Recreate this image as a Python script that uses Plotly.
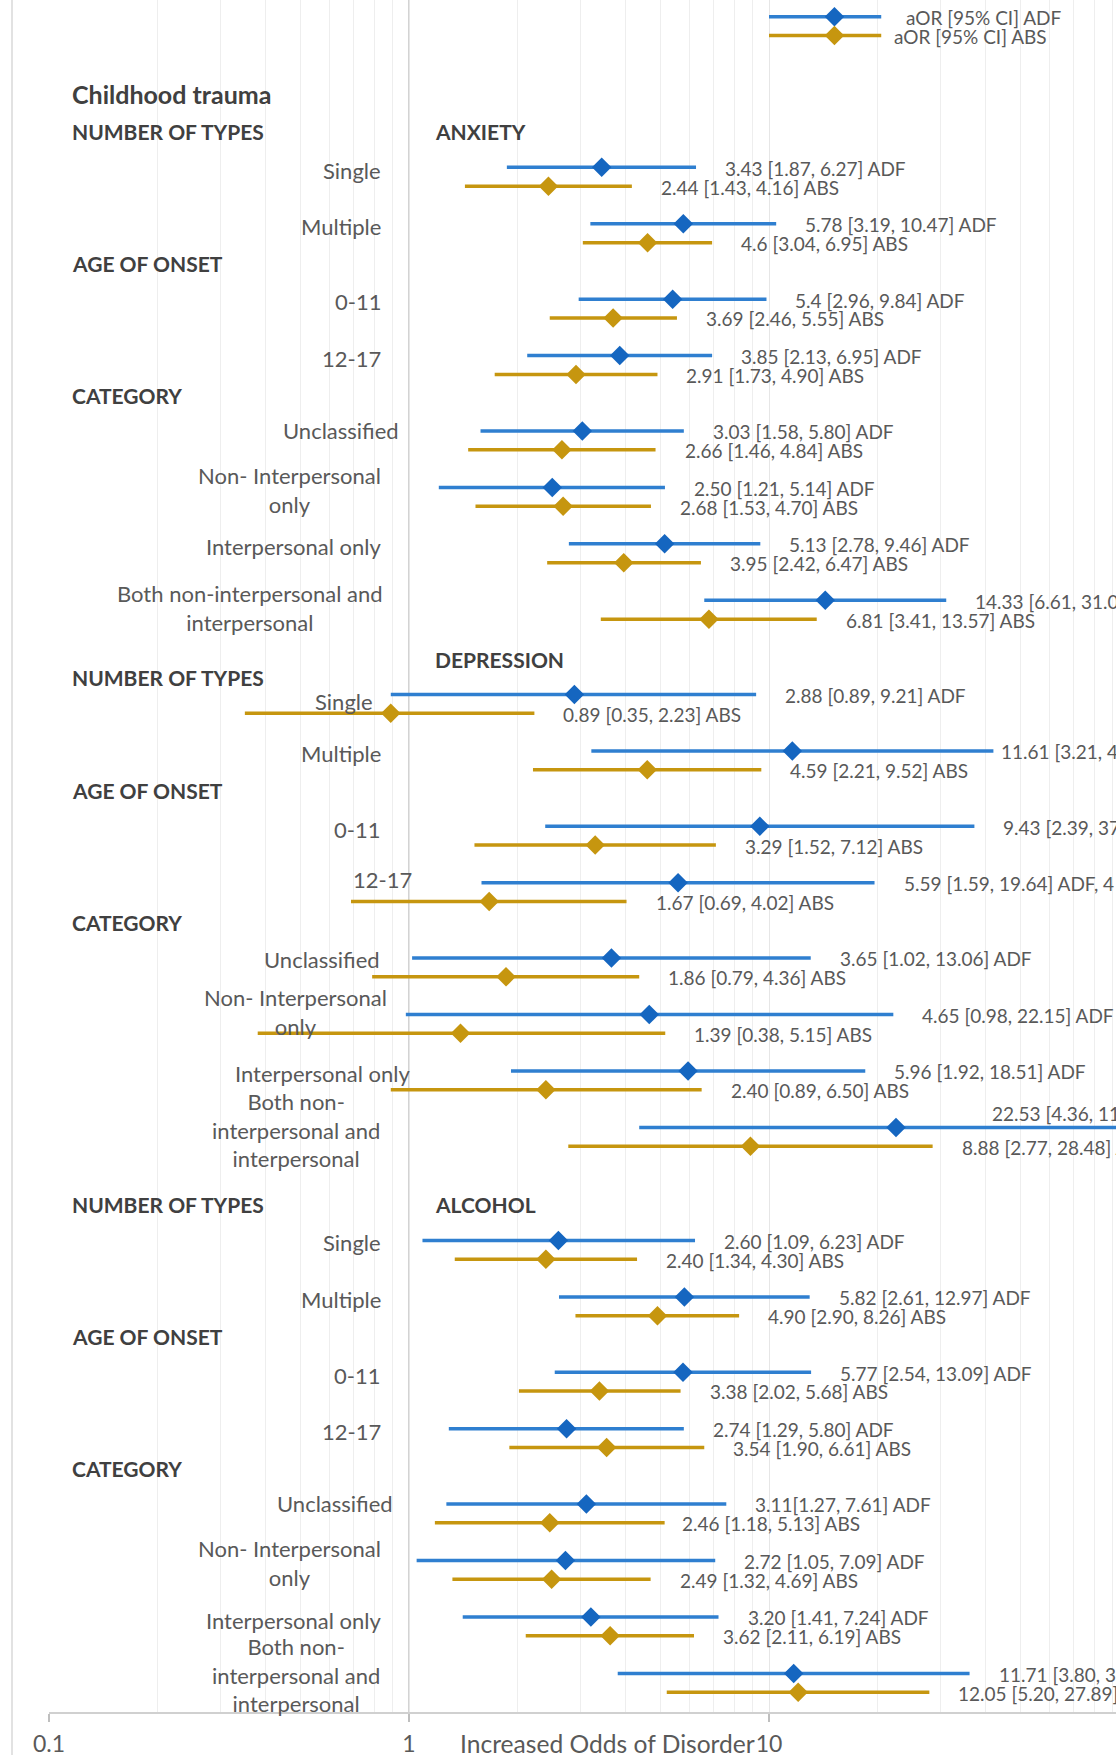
import math
import plotly.graph_objects as go

# ---------------- data ----------------
sections = ["ANXIETY", "DEPRESSION", "ALCOHOL"]
rows = ["Single", "Multiple", "0-11", "12-17", "Unclassified",
        "Non-Interpersonal only", "Interpersonal only", "Both"]

row_labels = [
    ["Single", "Multiple", "0-11", "12-17", "Unclassified",
     "Non- Interpersonal<br>only", "Interpersonal only",
     "Both non-interpersonal and<br>interpersonal"],
    ["Single", "Multiple", "0-11", "12-17", "Unclassified",
     "Non- Interpersonal<br>only", "Interpersonal only",
     "Both non-<br>interpersonal and<br>interpersonal"],
    ["Single", "Multiple", "0-11", "12-17", "Unclassified",
     "Non- Interpersonal<br>only", "Interpersonal only",
     "Both non-<br>interpersonal and<br>interpersonal"],
]

adf_or = [3.43, 5.78, 5.40, 3.85, 3.03, 2.50, 5.13, 14.33,
          2.88, 11.61, 9.43, 5.59, 3.65, 4.65, 5.96, 22.53,
          2.60, 5.82, 5.77, 2.74, 3.11, 2.72, 3.20, 11.71]
adf_lo = [1.87, 3.19, 2.96, 2.13, 1.58, 1.21, 2.78, 6.61,
          0.89, 3.21, 2.39, 1.59, 1.02, 0.98, 1.92, 4.36,
          1.09, 2.61, 2.54, 1.29, 1.27, 1.05, 1.41, 3.80]
adf_hi = [6.27, 10.47, 9.84, 6.95, 5.80, 5.14, 9.46, 31.07,
          9.21, 42.01, 37.20, 19.64, 13.06, 22.15, 18.51, 116.40,
          6.23, 12.97, 13.09, 5.80, 7.61, 7.09, 7.24, 36.07]

abs_or = [2.44, 4.60, 3.69, 2.91, 2.66, 2.68, 3.95, 6.81,
          0.89, 4.59, 3.29, 1.67, 1.86, 1.39, 2.40, 8.88,
          2.40, 4.90, 3.38, 3.54, 2.46, 2.49, 3.62, 12.05]
abs_lo = [1.43, 3.04, 2.46, 1.73, 1.46, 1.53, 2.42, 3.41,
          0.35, 2.21, 1.52, 0.69, 0.79, 0.38, 0.89, 2.77,
          1.34, 2.90, 2.02, 1.90, 1.18, 1.32, 2.11, 5.20]
abs_hi = [4.16, 6.95, 5.55, 4.90, 4.84, 4.70, 6.47, 13.57,
          2.23, 9.52, 7.12, 4.02, 4.36, 5.15, 6.50, 28.48,
          4.30, 8.26, 5.68, 6.61, 5.13, 4.69, 6.19, 27.89]

adf_text = ["3.43 [1.87, 6.27] ADF", "5.78 [3.19, 10.47] ADF", "5.4 [2.96, 9.84] ADF",
            "3.85 [2.13, 6.95] ADF", "3.03 [1.58, 5.80] ADF", "2.50 [1.21, 5.14] ADF",
            "5.13 [2.78, 9.46] ADF", "14.33 [6.61, 31.07] ADF",
            "2.88 [0.89, 9.21] ADF", "11.61 [3.21, 42.01] ADF", "9.43 [2.39, 37.20] ADF",
            "5.59 [1.59, 19.64] ADF, 4", "3.65 [1.02, 13.06] ADF", "4.65 [0.98, 22.15] ADF",
            "5.96 [1.92, 18.51] ADF", "22.53 [4.36, 116.40] ADF",
            "2.60 [1.09, 6.23] ADF", "5.82 [2.61, 12.97] ADF", "5.77 [2.54, 13.09] ADF",
            "2.74 [1.29, 5.80] ADF", "3.11[1.27, 7.61] ADF", "2.72 [1.05, 7.09] ADF",
            "3.20 [1.41, 7.24] ADF", "11.71 [3.80, 36.07] ADF"]
abs_text = ["2.44 [1.43, 4.16] ABS", "4.6 [3.04, 6.95] ABS", "3.69 [2.46, 5.55] ABS",
            "2.91 [1.73, 4.90] ABS", "2.66 [1.46, 4.84] ABS", "2.68 [1.53, 4.70] ABS",
            "3.95 [2.42, 6.47] ABS", "6.81 [3.41, 13.57] ABS",
            "0.89 [0.35, 2.23] ABS", "4.59 [2.21, 9.52] ABS", "3.29 [1.52, 7.12] ABS",
            "1.67 [0.69, 4.02] ABS", "1.86 [0.79, 4.36] ABS", "1.39 [0.38, 5.15] ABS",
            "2.40 [0.89, 6.50] ABS", "8.88 [2.77, 28.48] ABS",
            "2.40 [1.34, 4.30] ABS", "4.90 [2.90, 8.26] ABS", "3.38 [2.02, 5.68] ABS",
            "3.54 [1.90, 6.61] ABS", "2.46 [1.18, 5.13] ABS", "2.49 [1.32, 4.69] ABS",
            "3.62 [2.11, 6.19] ABS", "12.05 [5.20, 27.89] ABS"]

# legend key points (drawn as data in the original)
legend_or = [15.2, 15.2]
legend_lo = [10.0, 10.0]
legend_hi = [20.5, 20.5]
legend_text = ["aOR [95% CI] ADF", "aOR [95% CI] ABS"]

tick_vals = [0.1, 1, 10]
tick_text = ["0.1", "1", "10"]
x_title = "Increased Odds of Disorder"

# ---------------- layout helpers ----------------
BLUE_LINE = "#2F7FD0"
BLUE_MK = "#1566C0"
GOLD = "#C6960F"
TXT = "#595959"
HDR = "#404040"
FONT = "Lato, Open Sans, sans-serif"

W, H = 1116, 1755
ML, MB = 49, 43
PW = W - ML
PH = H - MB
DEC = 360.0
x_range = [-1, -1 + PW / DEC]
y_range = [90.05, -0.89]

section_start = [8, 36, 65]
row_offset = [0, 3, 7, 10, 14, 17, 20, 23]

adf_y, abs_y = [], []
for s in section_start:
    for o in row_offset:
        adf_y.append(s + o)
        abs_y.append(s + o + 1)
legend_y = [0, 1]


def px(p):
    return (p - ML) / PW


fig = go.Figure()

# reference line at OR = 1 and chart border
fig.add_shape(type="line", xref="x", yref="paper", x0=1, x1=1, y0=0, y1=1,
              line=dict(color="#C4C4C4", width=1.5), layer="below")
fig.add_shape(type="line", xref="paper", yref="paper", x0=px(12), x1=px(12),
              y0=-MB / PH, y1=1, line=dict(color="#D9D9D9", width=1.5))


def add_series(xs, lo, hi, ys, line_col, mk_col):
    fig.add_trace(go.Scatter(
        x=xs, y=ys, mode="markers",
        marker=dict(symbol="diamond", size=15, color=mk_col),
        error_x=dict(type="data", symmetric=False,
                     array=[h - v for v, h in zip(xs, hi)],
                     arrayminus=[v - l for v, l in zip(xs, lo)],
                     width=0, thickness=3.5, color=line_col),
        showlegend=False, hoverinfo="skip"))


add_series(adf_or, adf_lo, adf_hi, adf_y, BLUE_LINE, BLUE_MK)
add_series(abs_or, abs_lo, abs_hi, abs_y, GOLD, GOLD)
add_series(legend_or[:1], legend_lo[:1], legend_hi[:1], legend_y[:1], BLUE_LINE, BLUE_MK)
add_series(legend_or[1:], legend_lo[1:], legend_hi[1:], legend_y[1:], GOLD, GOLD)

ann = []
VAL_SIZE = 19
# value labels
adf_shift = {9: 6}
abs_shift = {20: 15}
for i, (t, h, y) in enumerate(zip(adf_text, adf_hi, adf_y)):
    if i == 15:
        ann.append(dict(x=px(990), xref="paper", y=y - 0.74, yref="y", text=t,
                        xanchor="left", yanchor="middle", showarrow=False,
                        font=dict(size=VAL_SIZE, color=TXT, family=FONT)))
        continue
    ann.append(dict(x=math.log10(h), xref="x", y=y + 0.05, yref="y", text=t,
                    xanchor="left", yanchor="middle", showarrow=False,
                    xshift=adf_shift.get(i, 27),
                    font=dict(size=VAL_SIZE, color=TXT, family=FONT)))
for i, (t, h, y) in enumerate(zip(abs_text, abs_hi, abs_y)):
    ann.append(dict(x=math.log10(h), xref="x", y=y + 0.05, yref="y", text=t,
                    xanchor="left", yanchor="middle", showarrow=False,
                    xshift=abs_shift.get(i, 27),
                    font=dict(size=VAL_SIZE, color=TXT, family=FONT)))
for t, h, y, sh in zip(legend_text, legend_hi, legend_y, [23, 11]):
    ann.append(dict(x=math.log10(h), xref="x", y=y + 0.05, yref="y", text=t,
                    xanchor="left", yanchor="middle", showarrow=False, xshift=sh,
                    font=dict(size=VAL_SIZE, color=TXT, family=FONT)))

# row labels: (right edge px, dy) per section
row_pos = [
    [(383, .14), (383, .12), (383, .10), (383, .13), (401, 0.0), (383, .15), (383, .12), (385, .39)],
    [(375, .39), (383, .12), (382, .16), (414, -.16), (382, .06), (389, -.12), (412, .12), (382, .16)],
    [(383, .10), (383, .13), (382, .16), (383, .15), (395, 0.0), (383, .16), (383, .20), (382, .10)],
]
for si, s in enumerate(section_start):
    for ri, o in enumerate(row_offset):
        rx, dy = row_pos[si][ri]
        ann.append(dict(x=px(rx), xref="paper", y=s + o + dy, yref="y",
                        text=row_labels[si][ri], xanchor="right", yanchor="middle",
                        align="center", showarrow=False,
                        font=dict(size=22, color=TXT, family=FONT)))


# headers
def hdr(text, xp, y, size=21):
    ann.append(dict(x=px(xp), xref="paper", y=y, yref="y", text="<b>" + text + "</b>",
                    xanchor="left", yanchor="middle", showarrow=False,
                    font=dict(size=size, color=HDR, family=FONT)))


hdr("Childhood trauma", 70, 4.1, size=25)
not_dy = [-1.88, -0.92, -1.92]
name_dy = [-1.88, -1.87, -1.92]
for si, s in enumerate(section_start):
    hdr("NUMBER OF TYPES", 70, s + not_dy[si])
    hdr(sections[si], 433, s + name_dy[si])
    hdr("AGE OF ONSET", 70, s + 5.1)
    hdr("CATEGORY", 70, s + 12.12)

# axis title placed just left of the "10" tick label
ann.append(dict(x=px(757), xref="paper", y=-31 / PH, yref="paper", text=x_title,
                xanchor="right", yanchor="middle", showarrow=False,
                font=dict(size=24.6, color=TXT, family=FONT)))

minor_vals = [k * 10 ** e for e in (-1, 0, 1) for k in range(2, 10)]

fig.update_layout(
    width=W, height=H,
    margin=dict(l=ML, r=0, t=0, b=MB, autoexpand=False),
    paper_bgcolor="white", plot_bgcolor="white",
    annotations=ann,
    xaxis=dict(type="log", range=x_range, tickvals=tick_vals, ticktext=tick_text,
               automargin=False,
               showgrid=True, gridcolor="#E6E6E6", gridwidth=1,
               minor=dict(tickvals=minor_vals, showgrid=True, gridcolor="#EEEEEE",
                          gridwidth=1, ticks=""),
               showline=True, linecolor="#D0D0D0", linewidth=2,
               ticks="outside", ticklen=8, tickcolor="#BFBFBF", tickwidth=1.5,
               ticklabelstandoff=2,
               tickfont=dict(size=23, color=TXT, family=FONT),
               zeroline=False, fixedrange=True),
    yaxis=dict(range=y_range, automargin=False, showgrid=False, showticklabels=False,
               zeroline=False, showline=False, ticks="", fixedrange=True),
)

fig.write_html("out.html")
